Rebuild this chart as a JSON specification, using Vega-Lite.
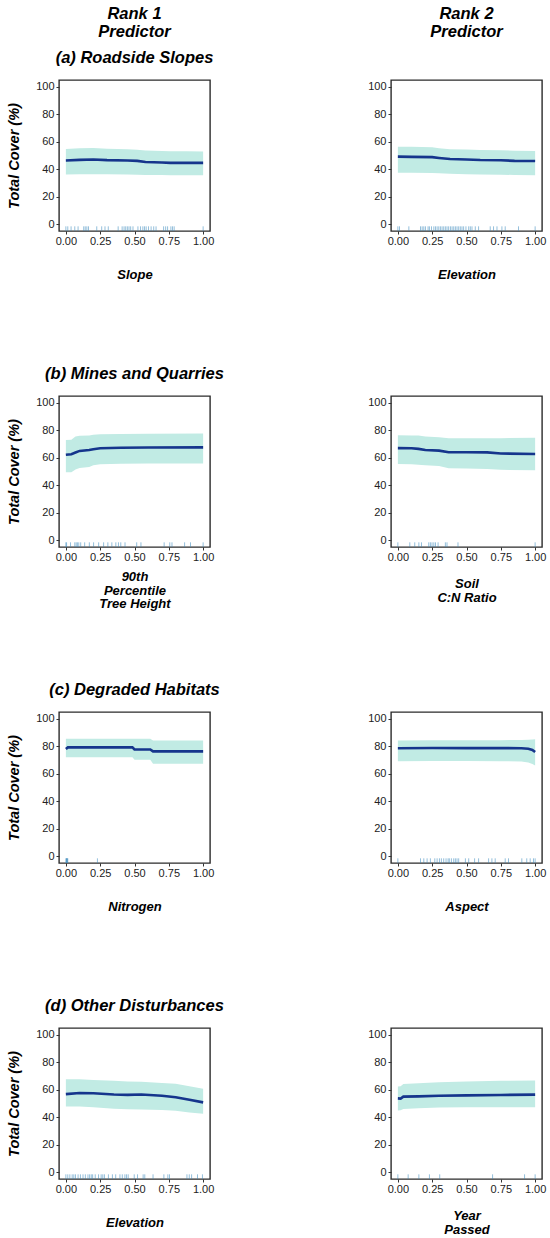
{
  "$schema": "https://vega.github.io/schema/vega-lite/v6.json",
  "padding": 5,
  "background": "white",
  "config": {
    "font": "Liberation Sans",
    "view": {"stroke": "#2b2b2b", "strokeWidth": 1.4},
    "axis": {
      "grid": false,
      "domain": false,
      "tickSize": 3,
      "tickColor": "#333333",
      "labelFont": "Liberation Sans",
      "labelFontSize": 11,
      "labelColor": "#222222",
      "labelFlush": false,
      "labelOverlap": false,
      "titleFont": "Liberation Sans",
      "titleFontWeight": "bold",
      "titleFontStyle": "italic",
      "titleColor": "#000000"
    },
    "axisX": {"labelPadding": 1, "titleFontSize": 13, "titleLineHeight": 13.5, "titlePadding": 22},
    "axisY": {"labelPadding": 2, "titleFontSize": 14.5, "titlePadding": 14},
    "title": {
      "font": "Liberation Sans",
      "fontSize": 16.5,
      "fontWeight": "bold",
      "fontStyle": "italic",
      "color": "#000000",
      "anchor": "middle",
      "offset": 14,
      "lineHeight": 18,
      "subtitleFont": "Liberation Sans",
      "subtitleFontSize": 16.5,
      "subtitleFontWeight": "bold",
      "subtitleFontStyle": "italic",
      "subtitleColor": "#000000",
      "subtitlePadding": 9
    }
  },
  "datasets": {
    "curves": [
      {"p": "a1", "x": 0, "y": 46.4, "lo": 36.2, "hi": 54.8},
      {"p": "a1", "x": 0.1, "y": 46.8, "lo": 36.3, "hi": 55.2},
      {"p": "a1", "x": 0.2, "y": 47.1, "lo": 36.4, "hi": 55.4},
      {"p": "a1", "x": 0.3, "y": 46.6, "lo": 36.3, "hi": 55.0},
      {"p": "a1", "x": 0.45, "y": 46.4, "lo": 36.1, "hi": 54.6},
      {"p": "a1", "x": 0.52, "y": 46.1, "lo": 35.9, "hi": 54.2},
      {"p": "a1", "x": 0.58, "y": 45.3, "lo": 35.8, "hi": 53.7},
      {"p": "a1", "x": 0.7, "y": 44.9, "lo": 35.8, "hi": 53.3},
      {"p": "a1", "x": 0.76, "y": 44.6, "lo": 35.7, "hi": 53.1},
      {"p": "a1", "x": 0.88, "y": 44.6, "lo": 35.7, "hi": 53.1},
      {"p": "a1", "x": 1, "y": 44.6, "lo": 35.7, "hi": 53.0},

      {"p": "a2", "x": 0, "y": 49.2, "lo": 37.5, "hi": 56.3},
      {"p": "a2", "x": 0.1, "y": 49.0, "lo": 37.4, "hi": 56.3},
      {"p": "a2", "x": 0.25, "y": 48.8, "lo": 37.2, "hi": 56.0},
      {"p": "a2", "x": 0.3, "y": 48.2, "lo": 37.0, "hi": 55.3},
      {"p": "a2", "x": 0.38, "y": 47.4, "lo": 36.7, "hi": 54.5},
      {"p": "a2", "x": 0.5, "y": 47.1, "lo": 36.4, "hi": 54.3},
      {"p": "a2", "x": 0.6, "y": 46.7, "lo": 36.2, "hi": 54.0},
      {"p": "a2", "x": 0.75, "y": 46.5, "lo": 36.0, "hi": 53.8},
      {"p": "a2", "x": 0.85, "y": 46.1, "lo": 35.8, "hi": 53.5},
      {"p": "a2", "x": 1, "y": 46.0, "lo": 35.6, "hi": 53.3},

      {"p": "b1", "x": 0, "y": 62.2, "lo": 49.4, "hi": 73.0},
      {"p": "b1", "x": 0.04, "y": 62.6, "lo": 49.5, "hi": 73.2},
      {"p": "b1", "x": 0.07, "y": 63.8, "lo": 51.5, "hi": 75.5},
      {"p": "b1", "x": 0.1, "y": 65.0, "lo": 52.5, "hi": 76.0},
      {"p": "b1", "x": 0.17, "y": 65.6, "lo": 53.3, "hi": 76.3},
      {"p": "b1", "x": 0.2, "y": 66.2, "lo": 54.5, "hi": 76.8},
      {"p": "b1", "x": 0.25, "y": 66.9, "lo": 55.2, "hi": 77.1},
      {"p": "b1", "x": 0.4, "y": 67.3, "lo": 55.6, "hi": 77.4},
      {"p": "b1", "x": 0.6, "y": 67.5, "lo": 55.8, "hi": 77.5},
      {"p": "b1", "x": 1, "y": 67.6, "lo": 55.9, "hi": 77.6},

      {"p": "b2", "x": 0, "y": 67.0, "lo": 55.4, "hi": 76.4},
      {"p": "b2", "x": 0.1, "y": 66.9, "lo": 55.3, "hi": 76.3},
      {"p": "b2", "x": 0.15, "y": 66.5, "lo": 55.0, "hi": 76.2},
      {"p": "b2", "x": 0.2, "y": 65.7, "lo": 54.5, "hi": 75.5},
      {"p": "b2", "x": 0.3, "y": 65.2, "lo": 54.0, "hi": 75.0},
      {"p": "b2", "x": 0.37, "y": 64.0, "lo": 52.3, "hi": 74.3},
      {"p": "b2", "x": 0.5, "y": 64.0, "lo": 52.2, "hi": 74.2},
      {"p": "b2", "x": 0.65, "y": 63.9, "lo": 51.8, "hi": 74.2},
      {"p": "b2", "x": 0.75, "y": 63.1, "lo": 51.2, "hi": 74.3},
      {"p": "b2", "x": 1, "y": 62.8, "lo": 51.0, "hi": 74.6},

      {"p": "c1", "x": 0, "y": 78.0, "lo": 72.1, "hi": 85.5},
      {"p": "c1", "x": 0.015, "y": 79.2, "lo": 72.1, "hi": 85.5},
      {"p": "c1", "x": 0.485, "y": 79.2, "lo": 72.1, "hi": 85.5},
      {"p": "c1", "x": 0.5, "y": 77.7, "lo": 70.2, "hi": 85.5},
      {"p": "c1", "x": 0.615, "y": 77.7, "lo": 70.2, "hi": 85.5},
      {"p": "c1", "x": 0.635, "y": 76.3, "lo": 67.3, "hi": 84.2},
      {"p": "c1", "x": 1, "y": 76.3, "lo": 67.3, "hi": 84.2},

      {"p": "c2", "x": 0, "y": 78.6, "lo": 69.2, "hi": 84.2},
      {"p": "c2", "x": 0.25, "y": 78.8, "lo": 69.3, "hi": 84.4},
      {"p": "c2", "x": 0.5, "y": 78.7, "lo": 69.3, "hi": 84.4},
      {"p": "c2", "x": 0.75, "y": 78.7, "lo": 69.2, "hi": 84.5},
      {"p": "c2", "x": 0.9, "y": 78.6, "lo": 68.9, "hi": 84.6},
      {"p": "c2", "x": 0.95, "y": 78.2, "lo": 68.3, "hi": 84.8},
      {"p": "c2", "x": 0.98, "y": 77.4, "lo": 67.2, "hi": 85.0},
      {"p": "c2", "x": 1, "y": 75.8, "lo": 66.0, "hi": 85.1},

      {"p": "d1", "x": 0, "y": 56.8, "lo": 47.8, "hi": 67.7},
      {"p": "d1", "x": 0.1, "y": 57.6, "lo": 47.8, "hi": 67.6},
      {"p": "d1", "x": 0.2, "y": 57.5, "lo": 47.3, "hi": 67.2},
      {"p": "d1", "x": 0.35, "y": 56.6, "lo": 46.2, "hi": 66.5},
      {"p": "d1", "x": 0.45, "y": 56.3, "lo": 45.8, "hi": 66.1},
      {"p": "d1", "x": 0.55, "y": 56.6, "lo": 45.7, "hi": 65.9},
      {"p": "d1", "x": 0.7, "y": 55.6, "lo": 45.3, "hi": 65.0},
      {"p": "d1", "x": 0.8, "y": 54.6, "lo": 44.7, "hi": 64.3},
      {"p": "d1", "x": 0.9, "y": 52.7, "lo": 43.5, "hi": 62.6},
      {"p": "d1", "x": 1, "y": 50.8, "lo": 42.5, "hi": 60.7},

      {"p": "d2", "x": 0, "y": 53.7, "lo": 44.9, "hi": 62.3},
      {"p": "d2", "x": 0.02, "y": 53.6, "lo": 45.0, "hi": 62.6},
      {"p": "d2", "x": 0.04, "y": 55.0, "lo": 46.0, "hi": 64.2},
      {"p": "d2", "x": 0.15, "y": 55.2, "lo": 46.5, "hi": 64.8},
      {"p": "d2", "x": 0.3, "y": 55.6, "lo": 47.0, "hi": 65.4},
      {"p": "d2", "x": 0.5, "y": 55.9, "lo": 47.2, "hi": 66.0},
      {"p": "d2", "x": 0.75, "y": 56.2, "lo": 47.3, "hi": 66.5},
      {"p": "d2", "x": 1, "y": 56.5, "lo": 47.3, "hi": 66.8}
    ],
    "rugs": [
      {"p": "a1", "x": 0}, {"p": "a1", "x": 0.014}, {"p": "a1", "x": 0.038}, {"p": "a1", "x": 0.065}, {"p": "a1", "x": 0.089},
      {"p": "a1", "x": 0.13}, {"p": "a1", "x": 0.141}, {"p": "a1", "x": 0.153}, {"p": "a1", "x": 0.165}, {"p": "a1", "x": 0.225},
      {"p": "a1", "x": 0.261}, {"p": "a1", "x": 0.285}, {"p": "a1", "x": 0.309}, {"p": "a1", "x": 0.381}, {"p": "a1", "x": 0.41},
      {"p": "a1", "x": 0.424}, {"p": "a1", "x": 0.436}, {"p": "a1", "x": 0.448}, {"p": "a1", "x": 0.46}, {"p": "a1", "x": 0.472},
      {"p": "a1", "x": 0.489}, {"p": "a1", "x": 0.525}, {"p": "a1", "x": 0.544}, {"p": "a1", "x": 0.561}, {"p": "a1", "x": 0.573},
      {"p": "a1", "x": 0.585}, {"p": "a1", "x": 0.602}, {"p": "a1", "x": 0.621}, {"p": "a1", "x": 0.64}, {"p": "a1", "x": 0.657},
      {"p": "a1", "x": 0.712}, {"p": "a1", "x": 0.727}, {"p": "a1", "x": 0.741}, {"p": "a1", "x": 0.765}, {"p": "a1", "x": 0.777},
      {"p": "a1", "x": 0.789}, {"p": "a1", "x": 1},

      {"p": "a2", "x": 0}, {"p": "a2", "x": 0.012}, {"p": "a2", "x": 0.08}, {"p": "a2", "x": 0.165}, {"p": "a2", "x": 0.177},
      {"p": "a2", "x": 0.189}, {"p": "a2", "x": 0.201}, {"p": "a2", "x": 0.22}, {"p": "a2", "x": 0.23}, {"p": "a2", "x": 0.245},
      {"p": "a2", "x": 0.262}, {"p": "a2", "x": 0.274}, {"p": "a2", "x": 0.286}, {"p": "a2", "x": 0.298}, {"p": "a2", "x": 0.31},
      {"p": "a2", "x": 0.322}, {"p": "a2", "x": 0.334}, {"p": "a2", "x": 0.346}, {"p": "a2", "x": 0.358}, {"p": "a2", "x": 0.37},
      {"p": "a2", "x": 0.383}, {"p": "a2", "x": 0.395}, {"p": "a2", "x": 0.407}, {"p": "a2", "x": 0.419}, {"p": "a2", "x": 0.431},
      {"p": "a2", "x": 0.443}, {"p": "a2", "x": 0.455}, {"p": "a2", "x": 0.467}, {"p": "a2", "x": 0.479}, {"p": "a2", "x": 0.496},
      {"p": "a2", "x": 0.516}, {"p": "a2", "x": 0.528}, {"p": "a2", "x": 0.54}, {"p": "a2", "x": 0.564}, {"p": "a2", "x": 0.588},
      {"p": "a2", "x": 0.673}, {"p": "a2", "x": 0.697}, {"p": "a2", "x": 0.722}, {"p": "a2", "x": 0.758}, {"p": "a2", "x": 0.782},
      {"p": "a2", "x": 0.879}, {"p": "a2", "x": 1},

      {"p": "b1", "x": 0}, {"p": "b1", "x": 0.005}, {"p": "b1", "x": 0.034}, {"p": "b1", "x": 0.065}, {"p": "b1", "x": 0.075},
      {"p": "b1", "x": 0.084}, {"p": "b1", "x": 0.094}, {"p": "b1", "x": 0.108}, {"p": "b1", "x": 0.137}, {"p": "b1", "x": 0.171},
      {"p": "b1", "x": 0.202}, {"p": "b1", "x": 0.239}, {"p": "b1", "x": 0.275}, {"p": "b1", "x": 0.306}, {"p": "b1", "x": 0.335},
      {"p": "b1", "x": 0.364}, {"p": "b1", "x": 0.383}, {"p": "b1", "x": 0.4}, {"p": "b1", "x": 0.431}, {"p": "b1", "x": 0.516},
      {"p": "b1", "x": 0.547}, {"p": "b1", "x": 0.716}, {"p": "b1", "x": 0.757}, {"p": "b1", "x": 0.773}, {"p": "b1", "x": 0.865},
      {"p": "b1", "x": 0.908}, {"p": "b1", "x": 1},

      {"p": "b2", "x": 0}, {"p": "b2", "x": 0.087}, {"p": "b2", "x": 0.123}, {"p": "b2", "x": 0.153}, {"p": "b2", "x": 0.172},
      {"p": "b2", "x": 0.225}, {"p": "b2", "x": 0.237}, {"p": "b2", "x": 0.249}, {"p": "b2", "x": 0.262}, {"p": "b2", "x": 0.274},
      {"p": "b2", "x": 0.293}, {"p": "b2", "x": 0.346}, {"p": "b2", "x": 0.358}, {"p": "b2", "x": 0.438}, {"p": "b2", "x": 1},

      {"p": "c1", "x": 0}, {"p": "c1", "x": 0.004}, {"p": "c1", "x": 0.008}, {"p": "c1", "x": 0.011}, {"p": "c1", "x": 0.014},
      {"p": "c1", "x": 0.006}, {"p": "c1", "x": 0.23},

      {"p": "c2", "x": 0}, {"p": "c2", "x": 0.165}, {"p": "c2", "x": 0.189}, {"p": "c2", "x": 0.213}, {"p": "c2", "x": 0.237},
      {"p": "c2", "x": 0.269}, {"p": "c2", "x": 0.286}, {"p": "c2", "x": 0.303}, {"p": "c2", "x": 0.317}, {"p": "c2", "x": 0.334},
      {"p": "c2", "x": 0.351}, {"p": "c2", "x": 0.366}, {"p": "c2", "x": 0.375}, {"p": "c2", "x": 0.39}, {"p": "c2", "x": 0.407},
      {"p": "c2", "x": 0.419}, {"p": "c2", "x": 0.431}, {"p": "c2", "x": 0.443}, {"p": "c2", "x": 0.492}, {"p": "c2", "x": 0.516},
      {"p": "c2", "x": 0.559}, {"p": "c2", "x": 0.588}, {"p": "c2", "x": 0.661}, {"p": "c2", "x": 0.685}, {"p": "c2", "x": 0.709},
      {"p": "c2", "x": 0.782}, {"p": "c2", "x": 0.806}, {"p": "c2", "x": 0.903}, {"p": "c2", "x": 0.939}, {"p": "c2", "x": 0.964},
      {"p": "c2", "x": 0.988}, {"p": "c2", "x": 1},

      {"p": "d1", "x": 0}, {"p": "d1", "x": 0.014}, {"p": "d1", "x": 0.029}, {"p": "d1", "x": 0.046}, {"p": "d1", "x": 0.058},
      {"p": "d1", "x": 0.07}, {"p": "d1", "x": 0.089}, {"p": "d1", "x": 0.106}, {"p": "d1", "x": 0.125}, {"p": "d1", "x": 0.142},
      {"p": "d1", "x": 0.161}, {"p": "d1", "x": 0.173}, {"p": "d1", "x": 0.185}, {"p": "d1", "x": 0.195}, {"p": "d1", "x": 0.214},
      {"p": "d1", "x": 0.238}, {"p": "d1", "x": 0.257}, {"p": "d1", "x": 0.269}, {"p": "d1", "x": 0.281}, {"p": "d1", "x": 0.31},
      {"p": "d1", "x": 0.339}, {"p": "d1", "x": 0.363}, {"p": "d1", "x": 0.394}, {"p": "d1", "x": 0.411}, {"p": "d1", "x": 0.43},
      {"p": "d1", "x": 0.442}, {"p": "d1", "x": 0.454}, {"p": "d1", "x": 0.498}, {"p": "d1", "x": 0.522}, {"p": "d1", "x": 0.563},
      {"p": "d1", "x": 0.575}, {"p": "d1", "x": 0.635}, {"p": "d1", "x": 0.714}, {"p": "d1", "x": 0.743}, {"p": "d1", "x": 0.755},
      {"p": "d1", "x": 0.882}, {"p": "d1", "x": 0.899}, {"p": "d1", "x": 0.916}, {"p": "d1", "x": 0.959}, {"p": "d1", "x": 0.995},

      {"p": "d2", "x": 0}, {"p": "d2", "x": 0.075}, {"p": "d2", "x": 0.153}, {"p": "d2", "x": 0.23}, {"p": "d2", "x": 0.305},
      {"p": "d2", "x": 0.69}, {"p": "d2", "x": 0.923}, {"p": "d2", "x": 1}
    ]
  },
  "columns": 2,
  "bounds": "flush",
  "spacing": {"row": 165, "column": 181},
  "concat": [
    {
      "width": 151, "height": 151,
      "view": {"stroke": "#2b2b2b", "strokeWidth": 1.4},
      "title": {"text": ["Rank 1", "Predictor"], "subtitle": "(a) Roadside Slopes"},
      "encoding": {"x": {"field": "x", "type": "quantitative", "scale": {"domain": [-0.05, 1.05], "nice": false, "zero": false}, "axis": {"values": [0, 0.25, 0.5, 0.75, 1], "format": ".2f", "title": "Slope"}}},
      "layer": [
        {"data": {"name": "curves"}, "transform": [{"filter": "datum.p == 'a1'"}], "mark": {"type": "area", "color": "#c1ebe4"},
         "encoding": {"y": {"field": "hi", "type": "quantitative", "scale": {"domain": [-5, 105], "nice": false, "zero": false}, "axis": {"values": [0, 20, 40, 60, 80, 100]}, "title": "Total Cover (%)"}, "y2": {"field": "lo"}}},
        {"data": {"name": "curves"}, "transform": [{"filter": "datum.p == 'a1'"}], "mark": {"type": "line", "color": "#15358c", "strokeWidth": 2.6},
         "encoding": {"y": {"field": "y", "type": "quantitative", "scale": {"domain": [-5, 105], "nice": false, "zero": false}, "axis": {"values": [0, 20, 40, 60, 80, 100]}, "title": "Total Cover (%)"}}},
        {"data": {"name": "rugs"}, "transform": [{"filter": "datum.p == 'a1'"}], "mark": {"type": "rule", "color": "#3d8bbd", "opacity": 0.55, "strokeWidth": 1},
         "encoding": {"y": {"datum": -5, "type": "quantitative", "scale": {"domain": [-5, 105], "nice": false, "zero": false}, "axis": {"values": [0, 20, 40, 60, 80, 100]}, "title": "Total Cover (%)"}, "y2": {"datum": -1.6}}}
      ]
    },
    {
      "width": 151, "height": 151,
      "view": {"stroke": "#2b2b2b", "strokeWidth": 1.4},
      "title": {"text": ["Rank 2", "Predictor"], "subtitle": " "},
      "encoding": {"x": {"field": "x", "type": "quantitative", "scale": {"domain": [-0.05, 1.05], "nice": false, "zero": false}, "axis": {"values": [0, 0.25, 0.5, 0.75, 1], "format": ".2f", "title": "Elevation"}}},
      "layer": [
        {"data": {"name": "curves"}, "transform": [{"filter": "datum.p == 'a2'"}], "mark": {"type": "area", "color": "#c1ebe4"},
         "encoding": {"y": {"field": "hi", "type": "quantitative", "scale": {"domain": [-5, 105], "nice": false, "zero": false}, "axis": {"values": [0, 20, 40, 60, 80, 100]}, "title": null}, "y2": {"field": "lo"}}},
        {"data": {"name": "curves"}, "transform": [{"filter": "datum.p == 'a2'"}], "mark": {"type": "line", "color": "#15358c", "strokeWidth": 2.6},
         "encoding": {"y": {"field": "y", "type": "quantitative", "scale": {"domain": [-5, 105], "nice": false, "zero": false}, "axis": {"values": [0, 20, 40, 60, 80, 100]}, "title": null}}},
        {"data": {"name": "rugs"}, "transform": [{"filter": "datum.p == 'a2'"}], "mark": {"type": "rule", "color": "#3d8bbd", "opacity": 0.55, "strokeWidth": 1},
         "encoding": {"y": {"datum": -5, "type": "quantitative", "scale": {"domain": [-5, 105], "nice": false, "zero": false}, "axis": {"values": [0, 20, 40, 60, 80, 100]}, "title": null}, "y2": {"datum": -1.6}}}
      ]
    },
    {
      "width": 151, "height": 151,
      "view": {"stroke": "#2b2b2b", "strokeWidth": 1.4},
      "title": {"text": "(b) Mines and Quarries"},
      "encoding": {"x": {"field": "x", "type": "quantitative", "scale": {"domain": [-0.05, 1.05], "nice": false, "zero": false}, "axis": {"values": [0, 0.25, 0.5, 0.75, 1], "format": ".2f", "title": ["90th", "Percentile", "Tree Height"], "titlePadding": 8.5}}},
      "layer": [
        {"data": {"name": "curves"}, "transform": [{"filter": "datum.p == 'b1'"}], "mark": {"type": "area", "color": "#c1ebe4"},
         "encoding": {"y": {"field": "hi", "type": "quantitative", "scale": {"domain": [-5, 105], "nice": false, "zero": false}, "axis": {"values": [0, 20, 40, 60, 80, 100]}, "title": "Total Cover (%)"}, "y2": {"field": "lo"}}},
        {"data": {"name": "curves"}, "transform": [{"filter": "datum.p == 'b1'"}], "mark": {"type": "line", "color": "#15358c", "strokeWidth": 2.6},
         "encoding": {"y": {"field": "y", "type": "quantitative", "scale": {"domain": [-5, 105], "nice": false, "zero": false}, "axis": {"values": [0, 20, 40, 60, 80, 100]}, "title": "Total Cover (%)"}}},
        {"data": {"name": "rugs"}, "transform": [{"filter": "datum.p == 'b1'"}], "mark": {"type": "rule", "color": "#3d8bbd", "opacity": 0.55, "strokeWidth": 1},
         "encoding": {"y": {"datum": -5, "type": "quantitative", "scale": {"domain": [-5, 105], "nice": false, "zero": false}, "axis": {"values": [0, 20, 40, 60, 80, 100]}, "title": "Total Cover (%)"}, "y2": {"datum": -1.6}}}
      ]
    },
    {
      "width": 151, "height": 151,
      "view": {"stroke": "#2b2b2b", "strokeWidth": 1.4},
      "encoding": {"x": {"field": "x", "type": "quantitative", "scale": {"domain": [-0.05, 1.05], "nice": false, "zero": false}, "axis": {"values": [0, 0.25, 0.5, 0.75, 1], "format": ".2f", "title": ["Soil", "C:N Ratio"], "titlePadding": 15.5}}},
      "layer": [
        {"data": {"name": "curves"}, "transform": [{"filter": "datum.p == 'b2'"}], "mark": {"type": "area", "color": "#c1ebe4"},
         "encoding": {"y": {"field": "hi", "type": "quantitative", "scale": {"domain": [-5, 105], "nice": false, "zero": false}, "axis": {"values": [0, 20, 40, 60, 80, 100]}, "title": null}, "y2": {"field": "lo"}}},
        {"data": {"name": "curves"}, "transform": [{"filter": "datum.p == 'b2'"}], "mark": {"type": "line", "color": "#15358c", "strokeWidth": 2.6},
         "encoding": {"y": {"field": "y", "type": "quantitative", "scale": {"domain": [-5, 105], "nice": false, "zero": false}, "axis": {"values": [0, 20, 40, 60, 80, 100]}, "title": null}}},
        {"data": {"name": "rugs"}, "transform": [{"filter": "datum.p == 'b2'"}], "mark": {"type": "rule", "color": "#3d8bbd", "opacity": 0.55, "strokeWidth": 1},
         "encoding": {"y": {"datum": -5, "type": "quantitative", "scale": {"domain": [-5, 105], "nice": false, "zero": false}, "axis": {"values": [0, 20, 40, 60, 80, 100]}, "title": null}, "y2": {"datum": -1.6}}}
      ]
    },
    {
      "width": 151, "height": 151,
      "view": {"stroke": "#2b2b2b", "strokeWidth": 1.4},
      "title": {"text": "(c) Degraded Habitats"},
      "encoding": {"x": {"field": "x", "type": "quantitative", "scale": {"domain": [-0.05, 1.05], "nice": false, "zero": false}, "axis": {"values": [0, 0.25, 0.5, 0.75, 1], "format": ".2f", "title": "Nitrogen"}}},
      "layer": [
        {"data": {"name": "curves"}, "transform": [{"filter": "datum.p == 'c1'"}], "mark": {"type": "area", "color": "#c1ebe4"},
         "encoding": {"y": {"field": "hi", "type": "quantitative", "scale": {"domain": [-5, 105], "nice": false, "zero": false}, "axis": {"values": [0, 20, 40, 60, 80, 100]}, "title": "Total Cover (%)"}, "y2": {"field": "lo"}}},
        {"data": {"name": "curves"}, "transform": [{"filter": "datum.p == 'c1'"}], "mark": {"type": "line", "color": "#15358c", "strokeWidth": 2.6},
         "encoding": {"y": {"field": "y", "type": "quantitative", "scale": {"domain": [-5, 105], "nice": false, "zero": false}, "axis": {"values": [0, 20, 40, 60, 80, 100]}, "title": "Total Cover (%)"}}},
        {"data": {"name": "rugs"}, "transform": [{"filter": "datum.p == 'c1'"}], "mark": {"type": "rule", "color": "#3d8bbd", "opacity": 0.55, "strokeWidth": 1},
         "encoding": {"y": {"datum": -5, "type": "quantitative", "scale": {"domain": [-5, 105], "nice": false, "zero": false}, "axis": {"values": [0, 20, 40, 60, 80, 100]}, "title": "Total Cover (%)"}, "y2": {"datum": -1.6}}}
      ]
    },
    {
      "width": 151, "height": 151,
      "view": {"stroke": "#2b2b2b", "strokeWidth": 1.4},
      "encoding": {"x": {"field": "x", "type": "quantitative", "scale": {"domain": [-0.05, 1.05], "nice": false, "zero": false}, "axis": {"values": [0, 0.25, 0.5, 0.75, 1], "format": ".2f", "title": "Aspect"}}},
      "layer": [
        {"data": {"name": "curves"}, "transform": [{"filter": "datum.p == 'c2'"}], "mark": {"type": "area", "color": "#c1ebe4"},
         "encoding": {"y": {"field": "hi", "type": "quantitative", "scale": {"domain": [-5, 105], "nice": false, "zero": false}, "axis": {"values": [0, 20, 40, 60, 80, 100]}, "title": null}, "y2": {"field": "lo"}}},
        {"data": {"name": "curves"}, "transform": [{"filter": "datum.p == 'c2'"}], "mark": {"type": "line", "color": "#15358c", "strokeWidth": 2.6},
         "encoding": {"y": {"field": "y", "type": "quantitative", "scale": {"domain": [-5, 105], "nice": false, "zero": false}, "axis": {"values": [0, 20, 40, 60, 80, 100]}, "title": null}}},
        {"data": {"name": "rugs"}, "transform": [{"filter": "datum.p == 'c2'"}], "mark": {"type": "rule", "color": "#3d8bbd", "opacity": 0.55, "strokeWidth": 1},
         "encoding": {"y": {"datum": -5, "type": "quantitative", "scale": {"domain": [-5, 105], "nice": false, "zero": false}, "axis": {"values": [0, 20, 40, 60, 80, 100]}, "title": null}, "y2": {"datum": -1.6}}}
      ]
    },
    {
      "width": 151, "height": 151,
      "view": {"stroke": "#2b2b2b", "strokeWidth": 1.4},
      "title": {"text": "(d) Other Disturbances"},
      "encoding": {"x": {"field": "x", "type": "quantitative", "scale": {"domain": [-0.05, 1.05], "nice": false, "zero": false}, "axis": {"values": [0, 0.25, 0.5, 0.75, 1], "format": ".2f", "title": "Elevation"}}},
      "layer": [
        {"data": {"name": "curves"}, "transform": [{"filter": "datum.p == 'd1'"}], "mark": {"type": "area", "color": "#c1ebe4"},
         "encoding": {"y": {"field": "hi", "type": "quantitative", "scale": {"domain": [-5, 105], "nice": false, "zero": false}, "axis": {"values": [0, 20, 40, 60, 80, 100]}, "title": "Total Cover (%)"}, "y2": {"field": "lo"}}},
        {"data": {"name": "curves"}, "transform": [{"filter": "datum.p == 'd1'"}], "mark": {"type": "line", "color": "#15358c", "strokeWidth": 2.6},
         "encoding": {"y": {"field": "y", "type": "quantitative", "scale": {"domain": [-5, 105], "nice": false, "zero": false}, "axis": {"values": [0, 20, 40, 60, 80, 100]}, "title": "Total Cover (%)"}}},
        {"data": {"name": "rugs"}, "transform": [{"filter": "datum.p == 'd1'"}], "mark": {"type": "rule", "color": "#3d8bbd", "opacity": 0.55, "strokeWidth": 1},
         "encoding": {"y": {"datum": -5, "type": "quantitative", "scale": {"domain": [-5, 105], "nice": false, "zero": false}, "axis": {"values": [0, 20, 40, 60, 80, 100]}, "title": "Total Cover (%)"}, "y2": {"datum": -1.6}}}
      ]
    },
    {
      "width": 151, "height": 151,
      "view": {"stroke": "#2b2b2b", "strokeWidth": 1.4},
      "encoding": {"x": {"field": "x", "type": "quantitative", "scale": {"domain": [-0.05, 1.05], "nice": false, "zero": false}, "axis": {"values": [0, 0.25, 0.5, 0.75, 1], "format": ".2f", "title": ["Year", "Passed"], "titlePadding": 15.5}}},
      "layer": [
        {"data": {"name": "curves"}, "transform": [{"filter": "datum.p == 'd2'"}], "mark": {"type": "area", "color": "#c1ebe4"},
         "encoding": {"y": {"field": "hi", "type": "quantitative", "scale": {"domain": [-5, 105], "nice": false, "zero": false}, "axis": {"values": [0, 20, 40, 60, 80, 100]}, "title": null}, "y2": {"field": "lo"}}},
        {"data": {"name": "curves"}, "transform": [{"filter": "datum.p == 'd2'"}], "mark": {"type": "line", "color": "#15358c", "strokeWidth": 2.6},
         "encoding": {"y": {"field": "y", "type": "quantitative", "scale": {"domain": [-5, 105], "nice": false, "zero": false}, "axis": {"values": [0, 20, 40, 60, 80, 100]}, "title": null}}},
        {"data": {"name": "rugs"}, "transform": [{"filter": "datum.p == 'd2'"}], "mark": {"type": "rule", "color": "#3d8bbd", "opacity": 0.55, "strokeWidth": 1},
         "encoding": {"y": {"datum": -5, "type": "quantitative", "scale": {"domain": [-5, 105], "nice": false, "zero": false}, "axis": {"values": [0, 20, 40, 60, 80, 100]}, "title": null}, "y2": {"datum": -1.6}}}
      ]
    }
  ]
}
